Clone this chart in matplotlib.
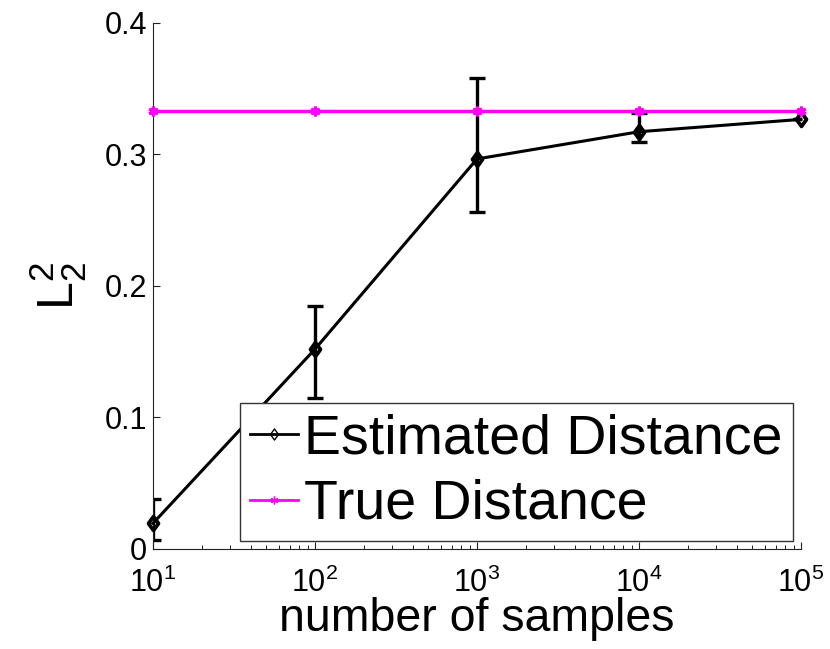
import matplotlib
matplotlib.use("Agg")
import matplotlib.pyplot as plt
from matplotlib.path import Path

# ---- data ----
samples = [1e1, 1e2, 1e3, 1e4, 1e5]
estimated = [0.0195, 0.152, 0.2966, 0.3173, 0.3267]
err_low = [0.0127, 0.0374, 0.0401, 0.0076, 0.0]
err_high = [0.0183, 0.0330, 0.0614, 0.0140, 0.0]
true_dist = [0.3333, 0.3333, 0.3333, 0.3333, 0.3333]
yticks = [0, 0.1, 0.2, 0.3, 0.4]
ytick_labels = ["0", "0.1", "0.2", "0.3", "0.4"]
series_names = ["Estimated Distance", "True Distance"]

plt.rcParams['font.family'] = ['Liberation Sans', 'DejaVu Sans']
plt.rcParams['mathtext.fontset'] = 'custom'
plt.rcParams['mathtext.rm'] = 'Liberation Sans'
plt.rcParams['mathtext.it'] = 'Liberation Sans:italic'
plt.rcParams['mathtext.bf'] = 'Liberation Sans:bold'
plt.rcParams['mathtext.default'] = 'regular'

fig = plt.figure(figsize=(8.3, 6.49), dpi=100)
ax = fig.add_axes([0.1843, 0.1541, 0.7808, 0.8105])

# tall diamond marker (MATLAB-like)
diamond = Path([(0, 1), (0.72, 0), (0, -1), (-0.72, 0), (0, 1)],
               [Path.MOVETO, Path.LINETO, Path.LINETO, Path.LINETO, Path.CLOSEPOLY])

ax.errorbar(samples, estimated, yerr=[err_low, err_high], fmt='none',
            ecolor='black', elinewidth=2.4, capsize=5.7, capthick=2.4, zorder=2)
ax.plot(samples, estimated, color='black', lw=2.2, marker=diamond, ms=10,
        mfc='none', mec='black', mew=2.7, label=series_names[0], clip_on=False, zorder=3)
ax.plot(samples, true_dist, color='#FF00FF', lw=2.5, marker=(6, 2, 0), ms=7,
        mec='#FF00FF', mew=2.2, label=series_names[1], clip_on=False, zorder=4)

ax.set_xscale('log')
ax.set_xlim(10, 1e5)
ax.set_ylim(0, 0.4)
ax.set_yticks(yticks)
ax.set_yticklabels(ytick_labels)

for s in ['top', 'right']:
    ax.spines[s].set_visible(False)
for s in ['left', 'bottom']:
    ax.spines[s].set_linewidth(0.8)
    ax.spines[s].set_color('#222222')

ax.tick_params(axis='both', which='major', direction='in', length=5, width=0.8,
               labelsize=22, color='#222222')
ax.tick_params(axis='x', which='minor', direction='in', length=2.7, width=0.7, color='#222222')
ax.tick_params(axis='y', which='major', pad=4.3)
ax.tick_params(axis='x', which='major', pad=13.5)
ax.yaxis.set_tick_params(which='minor', length=0)

ax.set_xlabel('number of samples', fontsize=33.5)
ax.xaxis.set_label_coords(0.5, -0.092)
ax.set_ylabel(r'$\mathregular{L_2^2}$', fontsize=36)
ax.yaxis.set_label_coords(-0.098, 0.5)

leg = ax.legend(loc='lower left', bbox_to_anchor=(0.1343, 0.0152), borderaxespad=0,
                fontsize=40, frameon=True, fancybox=False, framealpha=1,
                edgecolor='#333333', borderpad=0.18, handlelength=0.86,
                handletextpad=0.12, labelspacing=0.25, markerscale=0.8)
leg.get_frame().set_linewidth(1.0)
for h in leg.get_lines():
    h.set_markeredgewidth(1.0)
    h.set_linewidth(2.0)

fig.savefig('out.png', dpi=100, facecolor='white')
